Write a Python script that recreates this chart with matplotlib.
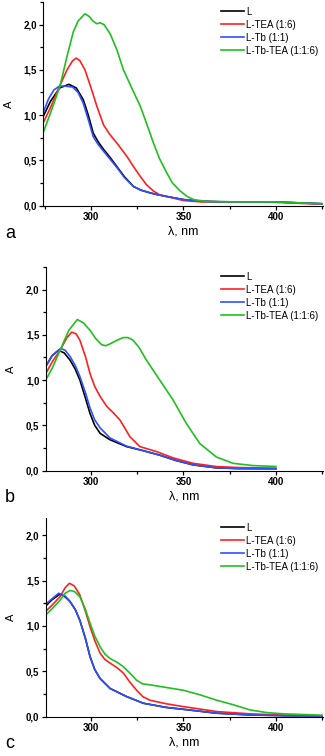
import numpy as np
import matplotlib
matplotlib.use("Agg")
import matplotlib.pyplot as plt
from matplotlib.ticker import MultipleLocator, FuncFormatter

plt.rcParams['font.family'] = ['Liberation Sans', 'DejaVu Sans']

labels = ["L", "L-TEA (1:6)", "L-Tb (1:1)", "L-Tb-TEA (1:1:6)"]
colors = ["#000000", "#ff2020", "#3050ff", "#20c020"]

# panel a
a_L_x = [274, 278, 283, 288, 292, 295.8, 298.5, 301.2, 304, 306.8, 310, 314, 318, 323, 327, 332, 336, 341, 350, 359, 370, 385, 400, 412, 425]
a_L_y = [0.98, 1.15, 1.30, 1.34, 1.30, 1.17, 1.00, 0.80, 0.70, 0.62, 0.54, 0.43, 0.32, 0.21, 0.17, 0.14, 0.12, 0.10, 0.066, 0.048, 0.042, 0.04, 0.04, 0.03, 0.02]
a_TEA_x = [274, 278, 283, 287, 290, 292, 294, 296.7, 300, 303.1, 306.8, 310, 314, 319.5, 323, 326.7, 330, 333.8, 337, 341, 350, 360, 380, 400, 412, 425]
a_TEA_y = [0.91, 1.08, 1.32, 1.50, 1.60, 1.63, 1.60, 1.50, 1.30, 1.10, 0.89, 0.79, 0.69, 0.54, 0.43, 0.32, 0.23, 0.16, 0.12, 0.10, 0.055, 0.04, 0.04, 0.035, 0.025, 0.015]
a_Tb_x = [274, 277, 280, 283, 286, 290, 293, 295.8, 298.5, 301.2, 304, 306.8, 310, 314, 318, 323, 327, 332, 336, 341, 350, 359, 370, 385, 400, 412, 425]
a_Tb_y = [1.02, 1.18, 1.28, 1.32, 1.32, 1.31, 1.25, 1.13, 0.95, 0.76, 0.67, 0.60, 0.52, 0.42, 0.31, 0.21, 0.17, 0.14, 0.12, 0.10, 0.066, 0.048, 0.042, 0.04, 0.04, 0.03, 0.02]
a_TbTEA_x = [274, 278, 283.2, 287, 290.4, 293, 296.7, 299, 301, 303.1, 304.9, 307, 310.3, 314, 317.5, 322, 326.6, 330, 333.8, 337, 341, 344, 348.3, 352, 355.5, 362.7, 380, 400, 412, 425]
a_TbTEA_y = [0.80, 1.02, 1.32, 1.65, 1.92, 2.04, 2.12, 2.09, 2.04, 2.01, 2.02, 2.00, 1.90, 1.72, 1.50, 1.30, 1.10, 0.91, 0.69, 0.52, 0.36, 0.25, 0.16, 0.10, 0.066, 0.044, 0.04, 0.04, 0.03, 0.02]

# panel b
b_L_x = [275.5, 279, 282.4, 285.5, 288.7, 291.5, 294, 297, 299.5, 302, 305, 310.3, 319.2, 328.2, 337.2, 346.2, 355.2, 367.8, 380, 400]
b_L_y = [1.15, 1.27, 1.33, 1.30, 1.22, 1.12, 1.00, 0.80, 0.63, 0.50, 0.41, 0.34, 0.265, 0.22, 0.17, 0.11, 0.063, 0.03, 0.022, 0.02]
b_TEA_x = [275.5, 279, 283.3, 287, 289.6, 292, 294, 297, 299.5, 302, 304.9, 308.5, 312, 315.6, 318, 321, 326.4, 335.4, 344.4, 355.2, 367.8, 380, 400]
b_TEA_y = [1.07, 1.20, 1.33, 1.47, 1.53, 1.51, 1.44, 1.26, 1.07, 0.93, 0.82, 0.71, 0.64, 0.56, 0.48, 0.375, 0.265, 0.21, 0.14, 0.08, 0.044, 0.033, 0.026]
b_Tb_x = [275.5, 279, 283.6, 286, 288.7, 291.5, 294, 297, 299.5, 302, 305, 310.3, 319.2, 328.2, 337.2, 346.2, 355.2, 367.8, 380, 400]
b_Tb_y = [1.15, 1.27, 1.35, 1.33, 1.26, 1.16, 1.04, 0.86, 0.69, 0.56, 0.47, 0.36, 0.27, 0.22, 0.17, 0.11, 0.063, 0.03, 0.022, 0.02]
b_TbTEA_x = [275.5, 279, 283.3, 288, 292.6, 296, 299.5, 302.5, 305.8, 308, 310.3, 314, 317.4, 320, 322.8, 326, 330, 337.2, 344.4, 351.6, 358.8, 367.8, 376.8, 387.6, 400]
b_TbTEA_y = [1.00, 1.13, 1.33, 1.55, 1.67, 1.63, 1.55, 1.46, 1.39, 1.38, 1.40, 1.44, 1.47, 1.47, 1.44, 1.36, 1.22, 1.00, 0.78, 0.52, 0.30, 0.15, 0.08, 0.055, 0.045]

# panel c
c_L_x = [275.5, 279, 283.2, 286, 288.6, 291.5, 294, 297, 299.5, 302, 304.9, 310.3, 319.3, 328.3, 340.9, 349.9, 368, 386, 405, 425]
c_L_y = [1.22, 1.29, 1.35, 1.32, 1.27, 1.18, 1.06, 0.86, 0.66, 0.52, 0.42, 0.31, 0.22, 0.147, 0.10, 0.08, 0.037, 0.018, 0.01, 0.007]
c_TEA_x = [275.5, 279, 283.2, 286, 288.3, 291, 294, 297, 299.5, 302, 304.9, 307.5, 310.3, 314, 317.5, 321, 324.7, 328, 331.9, 340.9, 349.9, 368, 386, 405, 425]
c_TEA_y = [1.16, 1.23, 1.32, 1.42, 1.47, 1.44, 1.34, 1.16, 0.99, 0.84, 0.70, 0.63, 0.59, 0.54, 0.48, 0.38, 0.29, 0.22, 0.18, 0.14, 0.11, 0.055, 0.03, 0.015, 0.007]
c_Tb_x = [275.5, 279, 282.5, 286, 288.6, 291.5, 294, 297, 299.5, 302, 304.9, 310.3, 319.3, 328.3, 340.9, 349.9, 368, 386, 405, 425]
c_Tb_y = [1.24, 1.30, 1.36, 1.33, 1.27, 1.18, 1.06, 0.86, 0.66, 0.52, 0.42, 0.31, 0.22, 0.147, 0.10, 0.08, 0.037, 0.018, 0.01, 0.007]
c_TbTEA_x = [275.5, 279, 283.2, 286, 288.6, 291, 294, 297, 299.5, 302, 304.9, 307.5, 310.3, 314, 317.5, 321, 324.7, 328, 331.9, 340.9, 349.9, 358.9, 368, 377, 386, 395, 404, 425]
c_TbTEA_y = [1.12, 1.19, 1.28, 1.36, 1.39, 1.38, 1.32, 1.18, 1.03, 0.89, 0.77, 0.69, 0.64, 0.60, 0.55, 0.48, 0.40, 0.36, 0.35, 0.32, 0.29, 0.24, 0.18, 0.13, 0.073, 0.044, 0.03, 0.015]

panels = [
    ("a", [(a_L_x, a_L_y), (a_TEA_x, a_TEA_y), (a_Tb_x, a_Tb_y), (a_TbTEA_x, a_TbTEA_y)], 274, 2.25),
    ("b", [(b_L_x, b_L_y), (b_TEA_x, b_TEA_y), (b_Tb_x, b_Tb_y), (b_TbTEA_x, b_TbTEA_y)], 275.5, 2.25),
    ("c", [(c_L_x, c_L_y), (c_TEA_x, c_TEA_y), (c_Tb_x, c_Tb_y), (c_TbTEA_x, c_TbTEA_y)], 275.5, 2.19),
]

W, H = 325, 756
# axes boxes in pixels: left, top, right, bottom
boxes = [(43, 2, 323, 206), (45.7, 267, 323, 471), (45.7, 518, 323, 717)]
letter_y = [233, 497, 744]

fig = plt.figure(figsize=(W / 100, H / 100), dpi=100)
comma = FuncFormatter(lambda v, p: f"{v:.1f}".replace(".", ","))

for (letter, curves, xmin, ytop), (l, t, r, b), ly in zip(panels, boxes, letter_y):
    ax = fig.add_axes([l / W, 1 - b / H, (r - l) / W, (b - t) / H])
    for (x, y), c, lab in zip(curves, colors, labels):
        ax.plot(x, y, color=c, lw=1.2, label=lab)
    ax.set_xlim(xmin, 425.5)
    ax.set_ylim(-0.005, ytop)
    ax.spines["top"].set_visible(False)
    ax.spines["right"].set_visible(False)
    ax.xaxis.set_major_locator(MultipleLocator(50))
    ax.xaxis.set_minor_locator(MultipleLocator(25))
    ax.yaxis.set_major_locator(MultipleLocator(0.5))
    ax.yaxis.set_minor_locator(MultipleLocator(0.25))
    ax.yaxis.set_major_formatter(comma)
    ax.tick_params(which="major", length=3, width=0.9, labelsize=7, pad=1.5)
    ax.tick_params(which="minor", length=2, width=0.9)
    for lbl in ax.get_xticklabels() + ax.get_yticklabels():
        lbl.set_fontweight("bold")
    ax.set_xlabel("λ, nm", fontsize=9, labelpad=2)
    ax.set_ylabel("A", fontsize=8, labelpad=7)
    ax.legend(loc="upper right", frameon=False, fontsize=7, handlelength=2.4,
              handletextpad=0.2, labelspacing=0.3, borderaxespad=0.1)
    fig.text(5 / W, 1 - ly / H, letter, fontsize=13, va="center", ha="left")

fig.savefig("out.png", dpi=100)
